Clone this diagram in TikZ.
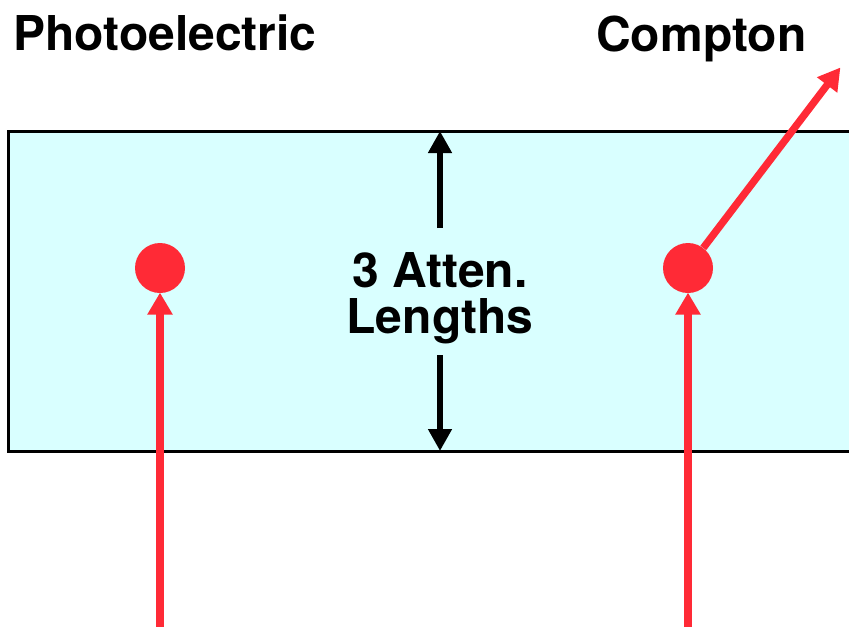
\documentclass[tikz,border=0pt]{standalone}
\usepackage{fontspec}
\setmainfont{TeX Gyre Heros}
\usetikzlibrary{arrows.meta}
\definecolor{boxcyan}{HTML}{D9FFFF}
\definecolor{photred}{HTML}{FF2A36}
\tikzset{
  lbl/.style={font=\bfseries\fontsize{36}{43}\selectfont, inner sep=0pt, text=black},
  redarrow/.style={draw=photred, line width=5.5pt, -{Triangle[width=18pt,length=16.5pt]}, shorten >=-0.5pt},
  blackarrow/.style={draw=black, line width=5pt, -{Triangle[width=17pt,length=16.5pt]}},
  dot/.style={circle, fill=photred, minimum size=37.5pt, inner sep=0pt},
}
\begin{document}
\begin{tikzpicture}[x=0.75pt, y=-0.75pt]
\useasboundingbox (0,0) rectangle (849,626);
% slab
\fill[boxcyan] (8,131) rectangle (860,451);
\draw[line width=2.25pt] (860,131) -- (8,131) -- (8,451) -- (860,451);
% titles
\node[lbl, anchor=base west] (photo) at (13,50) {Photoelectric};
\node[lbl, anchor=base west] (compton) at (596,51) {Compton};
% attenuation label
\node[lbl, anchor=base] (att1) at (440,287) {3 Atten.};
\node[lbl, anchor=base] (att2) at (440,333) {Lengths};
\coordinate (topend) at (440,228);
\coordinate (toptip) at (440,131);
\coordinate (botend) at (440,355);
\coordinate (bottip) at (440,451);
\draw[blackarrow] (topend) -- (toptip);
\draw[blackarrow] (botend) -- (bottip);
% interaction points
\node[dot] (pe) at (160,268) {};
\node[dot] (co) at (688,268) {};
\coordinate (pein) at (160,630);
\coordinate (coin) at (688,630);
\coordinate (coout) at (840,68);
\draw[redarrow] (pein) -- (pe.south);
\draw[redarrow] (coin) -- (co.south);
\draw[redarrow] (co) -- (coout);
\end{tikzpicture}
\end{document}
